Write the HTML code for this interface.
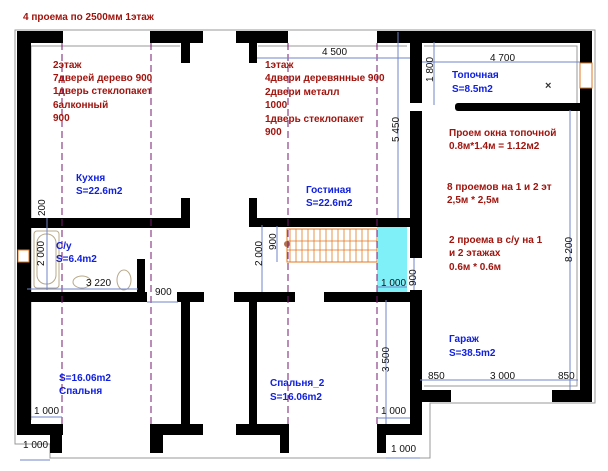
<!DOCTYPE html>
<html><head><meta charset="utf-8"><style>
html,body{margin:0;padding:0;background:#fff;}
svg{display:block;}
.r{font-family:"Liberation Sans",sans-serif;font-weight:bold;font-size:10px;fill:#a0140e;}
.b{font-family:"Liberation Sans",sans-serif;font-weight:bold;font-size:10px;fill:#1020e0;}
.d{font-family:"Liberation Sans",sans-serif;font-size:10px;fill:#111;}
.w{fill:#000;}
.dl{stroke:#6f86c8;stroke-width:1;fill:none;}
.pl{stroke:#7a1a70;stroke-width:1;stroke-dasharray:7,4;}
.g{stroke:#999;stroke-width:1;fill:none;}
</style></head><body>
<svg width="608" height="471" viewBox="0 0 608 471" xmlns="http://www.w3.org/2000/svg">
<!-- outer thin outline -->
<path class="g" d="M15 30 H595 V403 H430 V458 H50 V444 H15 Z"/>
<path class="g" d="M31 46 H180 M258 46 H407 M424 46 H577 V386 H424 M31 46 V420"/>
<!-- stair -->
<rect x="287" y="229" width="90" height="33" fill="#fff" stroke="#e07a20" stroke-width="1"/>
<g stroke="#e07a20" stroke-width="0.8">
<path d="M290 229V262M296 229V262M302 229V262M308 229V262M314 229V262M320 229V262M326 229V262M332 229V262M338 229V262M344 229V262M350 229V262M356 229V262M362 229V262M368 229V262M287 241H377M287 250H377"/>
</g>
<circle cx="287" cy="244" r="3" fill="#b07050"/>
<rect x="377" y="227" width="30" height="65" fill="#80f0f8"/>
<!-- walls -->
<g class="w">
<rect x="17" y="31" width="46" height="12"/>
<rect x="17" y="31" width="14" height="404"/>
<rect x="17" y="424" width="46" height="11"/>
<rect x="50" y="424" width="12" height="29"/>
<rect x="150" y="31" width="53" height="12"/>
<rect x="181" y="43" width="9" height="20"/>
<rect x="236" y="31" width="52" height="12"/>
<rect x="249" y="43" width="8" height="20"/>
<rect x="377" y="31" width="215" height="12"/>
<rect x="580" y="31" width="12" height="32"/>
<rect x="580" y="88" width="12" height="314"/>
<rect x="410" y="43" width="12" height="60"/>
<rect x="410" y="111" width="12" height="147"/>
<rect x="410" y="290" width="12" height="145"/>
<rect x="455" y="103" width="137" height="8" rx="3"/>
<rect x="17" y="218" width="173" height="10"/>
<rect x="181" y="198" width="9" height="30"/>
<rect x="249" y="218" width="161" height="9"/>
<rect x="249" y="198" width="8" height="29"/>
<rect x="17" y="292" width="130" height="10"/>
<rect x="137" y="259" width="8" height="43"/>
<rect x="177" y="292" width="27" height="10"/>
<rect x="234" y="292" width="61" height="10"/>
<rect x="324" y="292" width="86" height="10"/>
<rect x="181" y="300" width="9" height="126"/>
<rect x="249" y="300" width="8" height="126"/>
<rect x="150" y="424" width="53" height="11"/>
<rect x="150" y="424" width="13" height="29"/>
<rect x="236" y="424" width="52" height="11"/>
<rect x="280" y="424" width="9" height="29"/>
<rect x="377" y="424" width="45" height="11"/>
<rect x="377" y="424" width="9" height="29"/>
<rect x="410" y="390" width="41" height="12"/>
<rect x="552" y="390" width="40" height="12"/>
</g>
<rect x="580" y="63" width="12" height="25" fill="#fff" stroke="#e07a20"/>
<rect x="18" y="250" width="11" height="12" fill="#fff" stroke="#e07a20"/>
<!-- fixtures -->
<rect x="34" y="231" width="25" height="57" rx="3" fill="none" stroke="#b8a888"/>
<rect x="37" y="234" width="19" height="50" rx="9" fill="none" stroke="#b8a888"/>
<ellipse cx="124" cy="280" rx="7" ry="10" fill="none" stroke="#b8a888"/>
<ellipse cx="82" cy="282" rx="9" ry="6" fill="none" stroke="#b8a888"/>
<!-- purple dashed -->
<g class="pl"><path d="M62 43V424M151 43V424M288 43V424M377 43V424"/></g>
<!-- dimension lines -->
<g class="dl">
<path d="M257 58H410M422 62H580M434 42V105M398 32V218M570 110V390M47 218V230M47 230V290M27 289H138M147 302H178M262 225V292M277 226V262M414 258V290M377 287H407M386 300V424M420 380H578M31 417H62M20 460H50M377 418H410M386 458H420"/>
</g>
<!-- texts -->
<text class="r" x="23" y="20">4 проема по 2500мм 1этаж</text>
<g class="r">
<text x="53" y="68">2этаж</text>
<text x="53" y="81">7дверей дерево 900</text>
<text x="53" y="94">1дверь стеклопакет</text>
<text x="53" y="108">6алконный</text>
<text x="53" y="121">900</text>
<text x="265" y="68">1этаж</text>
<text x="265" y="81">4двери деревянные 900</text>
<text x="265" y="95">2двери металл</text>
<text x="265" y="108">1000</text>
<text x="265" y="122">1дверь стеклопакет</text>
<text x="265" y="135">900</text>
<text x="449" y="136">Проем окна топочной</text>
<text x="449" y="149">0.8м*1.4м = 1.12м2</text>
<text x="447" y="190">8 проемов  на 1 и 2 эт</text>
<text x="447" y="203">2,5м * 2,5м</text>
<text x="449" y="243">2 проема в с/у на 1</text>
<text x="449" y="256">и 2 этажах</text>
<text x="449" y="270">0.6м * 0.6м</text>
</g>
<g class="b">
<text x="76" y="181">Кухня</text>
<text x="76" y="194">S=22.6m2</text>
<text x="306" y="193">Гостиная</text>
<text x="306" y="206">S=22.6m2</text>
<text x="452" y="78">Топочная</text>
<text x="452" y="92">S=8.5m2</text>
<text x="56" y="249">С/у</text>
<text x="56" y="262">S=6.4m2</text>
<text x="449" y="342">Гараж</text>
<text x="449" y="356">S=38.5m2</text>
<text x="59" y="381">S=16.06m2</text>
<text x="59" y="394">Спальня</text>
<text x="270" y="386">Спальня_2</text>
<text x="270" y="400">S=16.06m2</text>
</g>
<text x="545" y="89" font-family="Liberation Sans" font-size="11" font-weight="bold" fill="#333">×</text>
<g class="d">
<text x="322" y="55">4 500</text>
<text x="490" y="61">4 700</text>
<text x="86" y="286">3 220</text>
<text x="155" y="295">900</text>
<text x="381" y="286">1 000</text>
<text x="428" y="379">850</text>
<text x="490" y="379">3 000</text>
<text x="558" y="379">850</text>
<text x="34" y="414">1 000</text>
<text x="23" y="448">1 000</text>
<text x="381" y="414">1 000</text>
<text x="391" y="452">1 000</text>
<text transform="translate(433,82) rotate(-90)">1 800</text>
<text transform="translate(399,142) rotate(-90)">5 450</text>
<text transform="translate(572,262) rotate(-90)">8 200</text>
<text transform="translate(45,216) rotate(-90)">200</text>
<text transform="translate(44,266) rotate(-90)">2 000</text>
<text transform="translate(262,266) rotate(-90)">2 000</text>
<text transform="translate(276,250) rotate(-90)">900</text>
<text transform="translate(416,286) rotate(-90)">900</text>
<text transform="translate(389,372) rotate(-90)">3 500</text>
</g>
</svg>
</body></html>
